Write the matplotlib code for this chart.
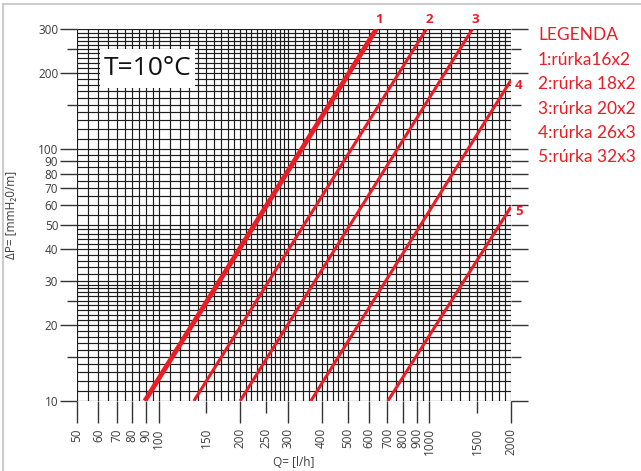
import numpy as np
import matplotlib
matplotlib.use('Agg')
import matplotlib.pyplot as plt
from matplotlib.patches import Rectangle
from matplotlib.lines import Line2D

# pipe lines: start/end points (Q in l/h, dP in mmH2O/m)
pipe_ids = ['1', '2', '3', '4', '5']
q_start = [89, 135, 200, 365, 702]
dp_start = [10, 10, 10, 10, 10]
q_end = [637, 975, 1441, 2000, 2000]
dp_end = [300, 300, 300, 188, 59]
legend_lines = ['LEGENDA', '1:rúrka16x2', '2:rúrka 18x2', '3:rúrka 20x2',
                '4:rúrka 26x3', '5:rúrka 32x3']

x_major = [50, 60, 70, 80, 90, 100, 200, 300, 400, 500, 600, 700, 800, 900, 1000, 2000]
x_minor = [150, 250, 1500]
y_major = [10, 20, 30, 40, 50, 60, 70, 80, 90, 100, 200, 300]
y_minor = [15, 25, 150, 250]

red = '#ec1c24'
txt = '#3c3c3c'
plt.rcParams['font.family'] = ['Open Sans', 'DejaVu Sans']

fig = plt.figure(figsize=(6.41, 4.71), dpi=100)
ax = fig.add_axes([77/641, 70/471, 434/641, 372/471])
ax.set_xscale('log')
ax.set_yscale('log')
ax.set_xlim(50, 2000)
ax.set_ylim(10, 300)

# nomogram grid
gx = np.concatenate([np.arange(50, 100, 5), np.arange(100, 200, 10), np.arange(200, 300, 10),
                     np.arange(300, 500, 20), np.arange(500, 1000, 50), np.arange(1000, 2001, 100)])
gy = np.concatenate([np.arange(10, 30, 1), np.arange(30, 50, 2), np.arange(50, 100, 5),
                     np.arange(100, 301, 10)])
ax.vlines(gx, 10, 300, color='#1c1c1c', lw=0.85, zorder=1)
ax.hlines(gy, 50, 2000, color='#1c1c1c', lw=0.85, zorder=1)
for s in ax.spines.values():
    s.set_visible(False)

ax.set_xticks(x_major, [str(v) for v in x_major])
ax.set_xticks(x_minor, [str(v) for v in x_minor], minor=True)
ax.set_yticks(y_major, [str(v) for v in y_major])
ax.set_yticks(y_minor, [], minor=True)
ax.tick_params(axis='x', which='major', length=16, width=1, pad=3.6, color='#333333',
               labelrotation=90, labelsize=8.5, labelcolor=txt)
ax.tick_params(axis='x', which='minor', length=8.6, width=1, pad=10.8, color='#333333',
               labelrotation=90, labelsize=8.5, labelcolor=txt)
ax.tick_params(axis='y', which='major', length=12, width=1, pad=1.5, color='#333333',
               right=True, labelsize=8.5, labelcolor=txt)
ax.tick_params(axis='y', which='minor', length=7, width=1, color='#333333', right=True)

ax.set_xlabel('Q= [l/h]', fontsize=8.5, color=txt)
ax.xaxis.set_label_coords(0.5, -0.148)
ax.set_ylabel('ΔP= [mmH₂0/m]', fontsize=8.5, color=txt)
ax.yaxis.set_label_coords(-0.136, 0.5)

# pipe characteristic lines
for i in range(len(pipe_ids)):
    lw = 3.5 if i == 0 else 2.2
    ax.plot([q_start[i], q_end[i]], [dp_start[i], dp_end[i]], color=red, lw=lw,
            solid_capstyle='butt', zorder=3)
    if dp_end[i] >= 300:
        off = (2, 6.5)
    else:
        off = (5.5, -3.6)
    ax.annotate(pipe_ids[i], (q_end[i], dp_end[i]), xytext=off, textcoords='offset points',
                ha='center', va='center', color=red, fontsize=9.5, fontweight='bold',
                annotation_clip=False)

# temperature box
ax.add_patch(Rectangle((0.053, 0.841), 0.219, 0.105, transform=ax.transAxes,
                       facecolor='white', edgecolor='none', zorder=2))
ax.text(0.1625, 0.893, 'T=10°C', transform=ax.transAxes, ha='center', va='center',
        fontsize=19, color='#111111', zorder=4)

# legend text
for j, s in enumerate(legend_lines):
    fig.text(538/641, 1 - (35.5 + 24.4*j)/471, s, color=red, fontsize=12.5,
             ha='left', va='center', family=['Lato', 'DejaVu Sans'])

# light frame
fig.add_artist(Line2D([3/641, 3/641], [0, 1 - 4/471], transform=fig.transFigure,
                      color='#cccccc', lw=1.5))
fig.add_artist(Line2D([3/641, 1], [1 - 4/471, 1 - 4/471], transform=fig.transFigure,
                      color='#cccccc', lw=1.5))

fig.savefig('out.png', dpi=100)
